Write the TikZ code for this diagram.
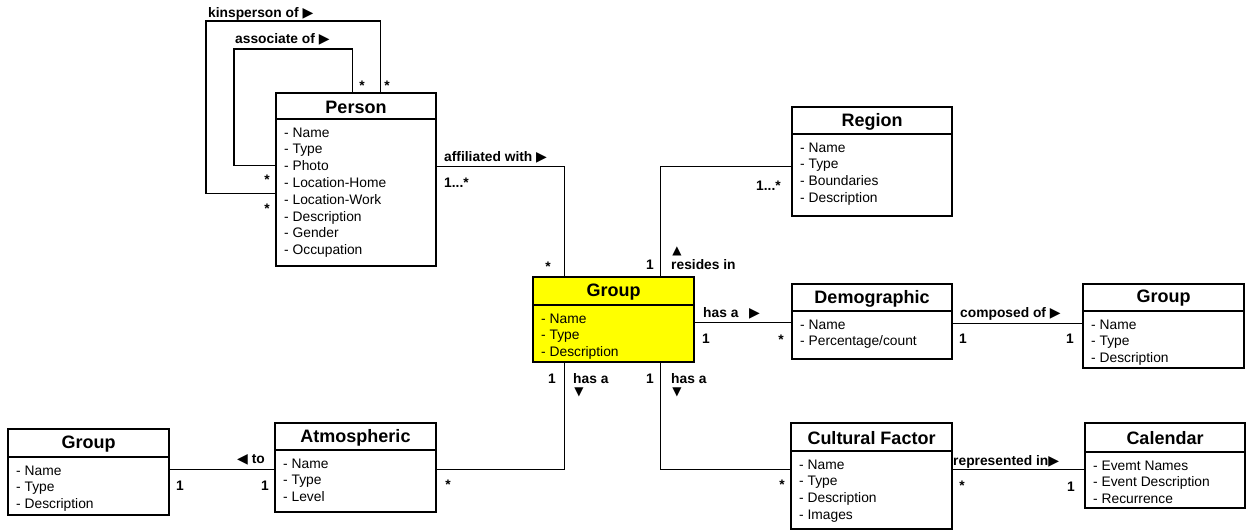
\documentclass[tikz,border=0pt]{standalone}
\usepackage{fontspec}
\setmainfont{Liberation Sans}
\newfontfamily\triFont{DejaVu Sans}
\usetikzlibrary{calc}
\definecolor{umlyellow}{HTML}{FFFF00}
\newcommand{\umlclass}[9]{%
  \node[classbox,#2,minimum width={(#5-#3)*1pt},minimum height={(#6-#4)*1pt}] (#1) at ({(#3+#5)/2},{(#4+#6)/2}) {};
  \draw[classline] (#3,#7) -- (#5,#7);
  \node[titletext] (#1-title) at ({(#3+#5)/2},{(#4+#7)/2+1}) {#8};
  \foreach \t [count=\i] in {#9} \node[attrtext] (#1-a\i) at ({#3+8},{#7+18+(\i-1)*16.8}) {- \t};
}
\newcommand{\rtri}{{\triFont\fontsize{14}{14}\selectfont ▶}}
\newcommand{\ltri}{{\triFont\fontsize{14}{14}\selectfont ◀}}
\begin{document}
\begin{tikzpicture}[x=1pt,y=-1pt,
  classbox/.style={draw, line width=1.6pt, inner sep=0pt, fill=white},
  classline/.style={line width=1.6pt},
  titletext/.style={font=\fontsize{18}{20}\selectfont\bfseries, inner sep=0pt},
  attrtext/.style={font=\fontsize{13.8}{16}\selectfont, anchor=base west, inner sep=0pt},
  conn/.style={line width=1.1pt},
  lbl/.style={font=\fontsize{13.8}{15}\selectfont\bfseries, anchor=base west, inner sep=0pt},
  mult/.style={font=\fontsize{13.8}{15}\selectfont\bfseries, anchor=base, inner sep=0pt},
  tri/.style={font=\triFont\fontsize{12}{12}\selectfont, inner sep=0pt}]
\useasboundingbox (0,0) rectangle (1247,531);

% classes
\umlclass{Person}{}{276}{93}{436}{266}{119}{Person}{Name,Type,Photo,Location-Home,Location-Work,Description,Gender,Occupation}
\umlclass{GroupY}{fill=umlyellow}{533}{277}{694}{362}{305}{Group}{Name,Type,Description}
\umlclass{Region}{}{792}{107}{952}{216}{134}{Region}{Name,Type,Boundaries,Description}
\umlclass{Demo}{}{792}{284}{952}{359}{311}{Demographic}{Name,Percentage/count}
\umlclass{GroupR}{}{1083}{284}{1244}{368}{311}{Group}{Name,Type,Description}
\umlclass{GroupL}{}{8}{429}{169}{515}{457}{Group}{Name,Type,Description}
\umlclass{Atmos}{}{275}{423}{436}{512}{450}{Atmospheric}{Name,Type,Level}
\umlclass{CF}{}{791}{423}{952}{529}{451}{Cultural Factor}{Name,Type,Description,Images}
\umlclass{Cal}{}{1085}{423}{1245}{508}{452}{Calendar}{Evemt Names,Event Description,Recurrence}

% connectors
\draw[conn] ([xshift=105pt]Person.north west) |- (206,21) |- ([yshift=-101pt]Person.north west);
\draw[conn] ([xshift=77pt]Person.north west) |- (234,49) |- ([yshift=-73pt]Person.north west);
\draw[conn] ([yshift=-74pt]Person.north east) -| ([xshift=32pt]GroupY.north west);
\draw[conn] ([xshift=128pt]GroupY.north west) |- ([yshift=-60pt]Region.north west);
\draw[conn] ([yshift=-46pt]GroupY.north east) coordinate (h1) -- (h1 -| Demo.west);
\draw[conn] ([yshift=-40pt]Demo.north east) coordinate (h2) -- (h2 -| GroupR.west);
\draw[conn] ([xshift=32pt]GroupY.south west) |- ([yshift=-47pt]Atmos.north east);
\draw[conn] ([xshift=128pt]GroupY.south west) |- ([yshift=-47pt]CF.north west);
\draw[conn] ([yshift=-47pt]Atmos.north west) coordinate (h3) -- (h3 -| GroupL.east);
\draw[conn] ([yshift=-47pt]CF.north east) coordinate (h4) -- (h4 -| Cal.west);

% labels
\node[lbl] (l-kin) at (208,17) {kinsperson of \rtri};
\node[lbl] (l-ass) at (235,43) {associate of \rtri};
\node[mult] (m-k1) at (362,90) {*};
\node[mult] (m-k2) at (387,90) {*};
\node[mult] (m-k3) at (267,184) {*};
\node[mult] (m-k4) at (267,213) {*};
\node[lbl] (l-aff) at (444,161) {affiliated with \rtri};
\node[lbl] (m-aff1) at (444,187) {1...*};
\node[mult] (m-aff2) at (548,271) {*};
\node[mult] (m-res1) at (650,269) {1};
\node[tri] (t-res) at (677,251) {▲};
\node[lbl] (l-res) at (671,269) {resides in};
\node[lbl] (m-res2) at (756,190) {1...*};
\node[lbl] (l-has1) at (703,317) {has a \enspace\rtri};
\node[lbl] (m-has1a) at (702,343) {1};
\node[mult] (m-has1b) at (781,344) {*};
\node[lbl] (l-comp) at (960,317) {composed of \rtri};
\node[lbl] (m-comp1) at (959,343) {1};
\node[lbl] (m-comp2) at (1066,343) {1};
\node[mult] (m-has2a) at (552,383) {1};
\node[lbl] (l-has2) at (573,383) {has a};
\node[tri] (t-has2) at (579,392) {▼};
\node[mult] (m-has3a) at (650,383) {1};
\node[lbl] (l-has3) at (671,383) {has a};
\node[tri] (t-has3) at (677,392) {▼};
\node[lbl] (l-to) at (237,463) {\ltri\ to};
\node[mult] (m-to1) at (180,490) {1};
\node[mult] (m-to2) at (265,490) {1};
\node[mult] (m-atm) at (448,489) {*};
\node[mult] (m-cf) at (782,489) {*};
\node[lbl] (l-rep) at (953,465) {represented in\rtri};
\node[mult] (m-rep1) at (962,490) {*};
\node[mult] (m-rep2) at (1071,491) {1};
\end{tikzpicture}
\end{document}
